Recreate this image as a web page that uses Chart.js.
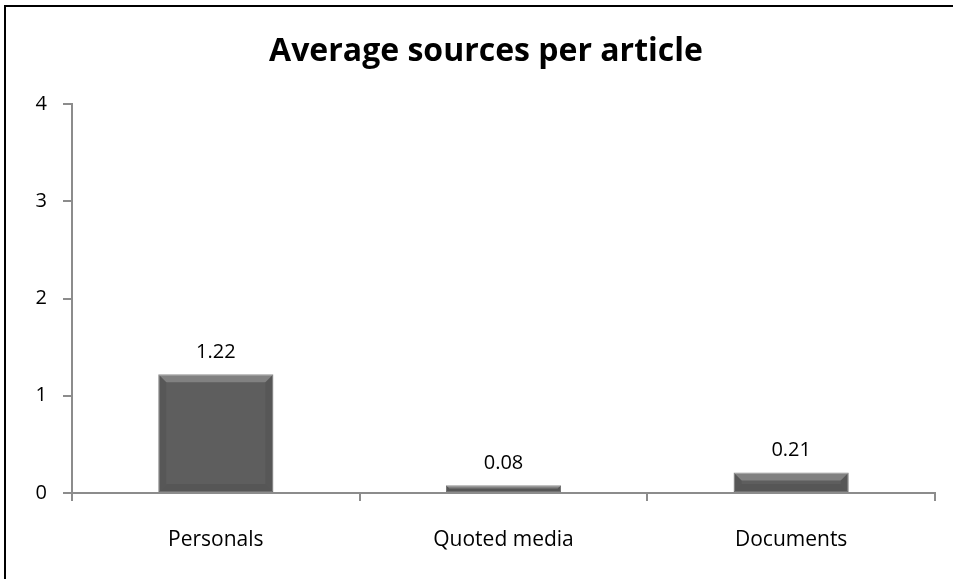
<!DOCTYPE html>
<html>
<head>
<meta charset="utf-8">
<script src="https://cdn.jsdelivr.net/npm/chart.js@4/dist/chart.umd.min.js"></script>
<style>
  html, body { margin: 0; padding: 0; background: #fff; }
  #wrap { position: relative; width: 953px; height: 579px; overflow: hidden; }
  #caption { position: absolute; left: 2px; top: -25px; font: bold 19px "Open Sans", sans-serif; line-height: 27px; color: #000; white-space: nowrap; }
  #frame { position: absolute; left: 4px; top: 5px; width: 960px; height: 600px; border-left: 2px solid #000; border-top: 2px solid #000; }
  #chart { position: absolute; left: 0; top: 0; }
</style>
</head>
<body>
<div id="wrap">
  <div id="caption">Figure 4: Average sources per article</div>
  <div id="frame"></div>
  <canvas id="chart" width="953" height="579"></canvas>
</div>
<script>
// Datos del gráfico
const categories = ['Personals', 'Quoted media', 'Documents'];
const values = [1.22, 0.08, 0.21];
const yTicks = [0, 1, 2, 3, 4];
const titleText = 'Average sources per article';

const axisGrey = '#8c8c8c';
const fontFamily = '"Open Sans", sans-serif';

// Título dibujado a mano para poder centrarlo donde está en la imagen
const titlePlugin = {
    id: 'customTitle',
    afterDraw(chart) {
        const ctx = chart.ctx;
        ctx.save();
        ctx.font = 'bold 32px ' + fontFamily;
        ctx.fillStyle = '#000';
        ctx.textAlign = 'center';
        ctx.textBaseline = 'middle';
        ctx.fillText(titleText, 486, 52);
        ctx.restore();
    }
};

// Relieve de las barras y etiquetas de valor
const barPlugin = {
    id: 'barDecor',
    afterDatasetsDraw(chart) {
        const ctx = chart.ctx;
        const meta = chart.getDatasetMeta(0);
        meta.data.forEach(function(bar, i) {
            const left = bar.x - bar.width / 2;
            const right = bar.x + bar.width / 2;
            const top = bar.y;
            const bottom = bar.base;
            const h = bottom - top;
            const b = Math.min(8, h / 2);
            ctx.save();
            // borde superior claro
            ctx.fillStyle = 'rgba(255,255,255,0.22)';
            ctx.beginPath();
            ctx.moveTo(left, top);
            ctx.lineTo(right, top);
            ctx.lineTo(right - b, top + b);
            ctx.lineTo(left + b, top + b);
            ctx.closePath();
            ctx.fill();
            // lados un poco más oscuros
            ctx.fillStyle = 'rgba(0,0,0,0.07)';
            ctx.beginPath();
            ctx.moveTo(left, top);
            ctx.lineTo(left + b, top + b);
            ctx.lineTo(left + b, bottom - b);
            ctx.lineTo(left, bottom);
            ctx.closePath();
            ctx.fill();
            ctx.beginPath();
            ctx.moveTo(right, top);
            ctx.lineTo(right - b, top + b);
            ctx.lineTo(right - b, bottom - b);
            ctx.lineTo(right, bottom);
            ctx.closePath();
            ctx.fill();
            ctx.fillStyle = 'rgba(0,0,0,0.08)';
            ctx.beginPath();
            ctx.moveTo(left, bottom);
            ctx.lineTo(left + b, bottom - b);
            ctx.lineTo(right - b, bottom - b);
            ctx.lineTo(right, bottom);
            ctx.closePath();
            ctx.fill();
            // valor
            ctx.fillStyle = '#000';
            ctx.font = '20px ' + fontFamily;
            ctx.textAlign = 'center';
            ctx.textBaseline = 'middle';
            ctx.fillText(values[i].toFixed(2), bar.x, top - 22);
            ctx.restore();
        });
    }
};

const ctx = document.getElementById('chart').getContext('2d');
new Chart(ctx, {
    type: 'bar',
    data: {
        labels: categories,
        datasets: [{
            data: values,
            backgroundColor: '#5e5e5e',
            borderColor: '#7c7c7c',
            borderWidth: 1,
            borderSkipped: false,
            categoryPercentage: 1,
            barPercentage: 0.4
        }]
    },
    options: {
        responsive: false,
        animation: false,
        layout: { padding: { left: 6, right: 18, top: 104, bottom: 22 } },
        plugins: {
            legend: { display: false },
            tooltip: { enabled: false },
            title: { display: false }
        },
        scales: {
            y: {
                min: 0,
                max: 4,
                afterFit(scale) { scale.width = 66; },
                afterBuildTicks(scale) { scale.ticks = yTicks.map(v => ({ value: v })); },
                border: { color: axisGrey, width: 2 },
                grid: { drawOnChartArea: false, tickLength: 9, color: axisGrey, lineWidth: 2 },
                ticks: { color: '#000', padding: 16, font: { family: fontFamily, size: 20 } }
            },
            x: {
                afterFit(scale) { scale.height = 64; },
                border: { color: axisGrey, width: 2 },
                grid: { drawOnChartArea: false, tickLength: 8, color: axisGrey, lineWidth: 2 },
                ticks: { color: '#000', padding: 26, font: { family: fontFamily, size: 21 } }
            }
        }
    },
    plugins: [titlePlugin, barPlugin]
});
</script>
</body>
</html>
